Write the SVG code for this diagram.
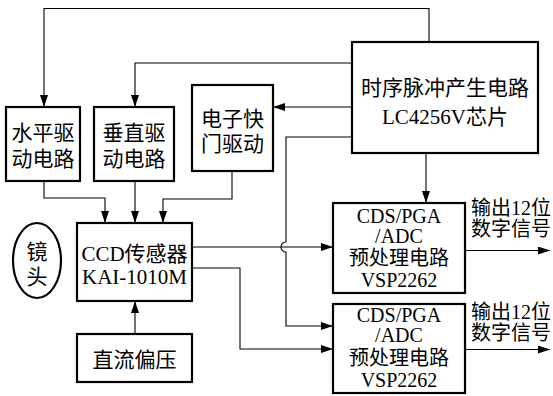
<svg xmlns="http://www.w3.org/2000/svg" width="553" height="396" viewBox="0 0 553 396">
<style>
.box{fill:#fff;stroke:#000;stroke-width:2.2}
.ln{fill:none;stroke:#000;stroke-width:1.1}
text{font-family:"Liberation Serif","Noto Sans CJK SC",serif;font-size:21px;fill:#000;text-anchor:middle}
.s{font-size:20px}
.l{text-anchor:start;font-size:20px}
</style>
<defs>
<marker id="ah" viewBox="0 0 12 8" refX="12" refY="4" markerWidth="12" markerHeight="8" markerUnits="userSpaceOnUse" orient="auto">
<path d="M0,0 L12,4 L0,8 Z" fill="#000"/>
</marker>
</defs>
<rect width="553" height="396" fill="#fff"/>
<g id="connectors">
<path class="ln" d="M429,42 V8.5 H44 V107" marker-end="url(#ah)"/>
<path class="ln" d="M352,63 H135 V107" marker-end="url(#ah)"/>
<path class="ln" d="M352,107 H273" marker-end="url(#ah)"/>
<path class="ln" d="M352,137 H286 V242 A5,5 0 0 0 286,252 V326 H333" marker-end="url(#ah)"/>
<path class="ln" d="M426,153 V203" marker-end="url(#ah)"/>
<path class="ln" d="M44,181 V198 H105 V223" marker-end="url(#ah)"/>
<path class="ln" d="M135,181 V223" marker-end="url(#ah)"/>
<path class="ln" d="M232,171 V199 H163 V223" marker-end="url(#ah)"/>
<path class="ln" d="M135,334 V301" marker-end="url(#ah)"/>
<path class="ln" d="M192,247 H333" marker-end="url(#ah)"/>
<path class="ln" d="M192,268 H240 V349 H333" marker-end="url(#ah)"/>
<path class="ln" d="M465,250.5 H550" marker-end="url(#ah)"/>
<path class="ln" d="M465,349.5 H550" marker-end="url(#ah)"/>
</g>
<g id="timing">
<rect class="box" x="352" y="42" width="186" height="111"/>
<text x="445" y="95">时序脉冲产生电路</text>
<text x="445" y="124">LC4256V芯片</text>
</g>
<g id="hdrive">
<rect class="box" x="6" y="107" width="74" height="74"/>
<text x="43" y="140">水平驱</text>
<text x="43" y="166">动电路</text>
</g>
<g id="vdrive">
<rect class="box" x="94" y="107" width="80" height="74"/>
<text x="134" y="140">垂直驱</text>
<text x="134" y="166">动电路</text>
</g>
<g id="shutter">
<rect class="box" x="192" y="85" width="81" height="86"/>
<text x="232.5" y="126">电子快</text>
<text x="232.5" y="151">门驱动</text>
</g>
<g id="lens">
<ellipse cx="37" cy="260.5" rx="24" ry="37.5" fill="#fff" stroke="#000" stroke-width="2.2"/>
<text x="37" y="259">镜</text>
<text x="37" y="284">头</text>
</g>
<g id="ccd">
<rect class="box" x="77" y="223" width="115" height="78"/>
<text x="134.5" y="261">CCD传感器</text>
<text x="134.5" y="284">KAI-1010M</text>
</g>
<g id="bias">
<rect class="box" x="77" y="334" width="115" height="48"/>
<text x="134.5" y="367">直流偏压</text>
</g>
<g id="proc1">
<rect class="box" x="333" y="203" width="132" height="90"/>
<text class="s" x="399" y="223">CDS/PGA</text>
<text class="s" x="399" y="243">/ADC</text>
<text class="s" x="399" y="265">预处理电路</text>
<text class="s" x="399" y="287">VSP2262</text>
</g>
<g id="proc2">
<rect class="box" x="333" y="304" width="132" height="89"/>
<text class="s" x="399" y="322">CDS/PGA</text>
<text class="s" x="399" y="342">/ADC</text>
<text class="s" x="399" y="365">预处理电路</text>
<text class="s" x="399" y="387">VSP2262</text>
</g>
<g id="labels">
<text class="l" x="471" y="215">输出12位</text>
<text class="l" x="471" y="236">数字信号</text>
<text class="l" x="471" y="319">输出12位</text>
<text class="l" x="471" y="340">数字信号</text>
</g>
</svg>
